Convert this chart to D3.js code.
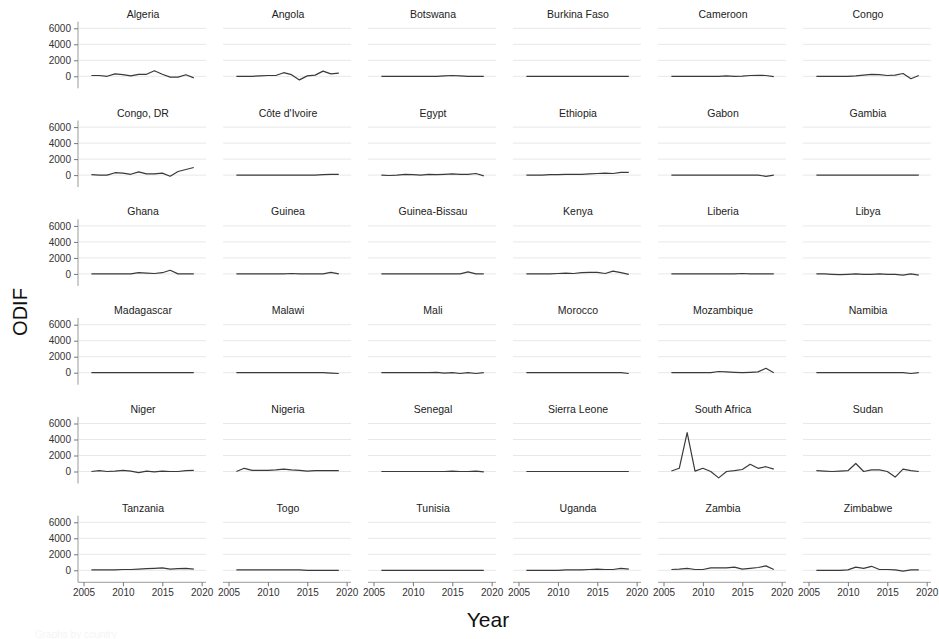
<!DOCTYPE html>
<html>
<head>
<meta charset="utf-8">
<script src="https://cdn.jsdelivr.net/npm/d3@7"></script>
<style>
    body { margin: 0; background: #fff; }
    text { font-family: "Liberation Sans", Arial, sans-serif; }
</style>
</head>
<body>
<div id="graph"></div>
<script>
const years = [2006, 2007, 2008, 2009, 2010, 2011, 2012, 2013, 2014, 2015, 2016, 2017, 2018, 2019];

const countries = [
    "Algeria", "Angola", "Botswana", "Burkina Faso", "Cameroon", "Congo",
    "Congo, DR", "Côte d'Ivoire", "Egypt", "Ethiopia", "Gabon", "Gambia",
    "Ghana", "Guinea", "Guinea-Bissau", "Kenya", "Liberia", "Libya",
    "Madagascar", "Malawi", "Mali", "Morocco", "Mozambique", "Namibia",
    "Niger", "Nigeria", "Senegal", "Sierra Leone", "South Africa", "Sudan",
    "Tanzania", "Togo", "Tunisia", "Uganda", "Zambia", "Zimbabwe"
];

// ODIF per country, 2006-2019 (same order as countries)
const odif = [
    [100, 100, 0, 300, 200, 50, 250, 250, 700, 250, -100, -100, 200, -200],
    [0, 0, 0, 50, 100, 100, 450, 200, -450, 50, 150, 650, 300, 400],
    [0, 0, 0, -20, 0, 0, 0, 0, 50, 100, 50, 0, 0, 0],
    [0, 0, 0, 0, 0, 0, 0, 0, 0, 0, 0, 0, 0, 0],
    [0, 0, 0, 0, 0, 0, 0, 50, 0, 30, 100, 120, 100, -30],
    [0, 0, 0, 0, 0, 50, 150, 250, 200, 100, 150, 350, -300, 100],
    [50, 0, 0, 300, 250, 100, 400, 150, 150, 250, -150, 450, 700, 950],
    [0, 0, 0, 0, 0, 0, 0, 0, 0, 0, 0, 50, 100, 100],
    [0, -50, 0, 100, 50, 0, 100, 50, 100, 150, 100, 100, 200, -100],
    [0, 0, 0, 50, 50, 100, 100, 100, 150, 200, 250, 200, 350, 350],
    [0, 0, 0, 0, 0, 0, 0, 0, 0, 0, 0, 0, -150, 0],
    [0, 0, 0, 0, 0, 0, 0, 0, 0, 0, 0, 0, 0, 0],
    [0, 0, 0, 0, 0, 0, 150, 100, 50, 150, 450, 0, 0, 0],
    [0, 0, 0, 0, 0, 0, 0, 50, 0, 0, 0, 0, 200, 0],
    [0, 0, 0, 0, 0, 0, 0, 0, 0, 0, 0, 250, 0, 0],
    [0, 0, 0, 0, 50, 100, 50, 150, 200, 200, 50, 350, 150, -50],
    [0, 0, 0, 0, 0, 0, 0, 0, 0, 50, 0, 0, 0, 0],
    [0, 0, -50, -100, -50, 0, -50, -50, 0, -50, -50, -150, 0, -150],
    [0, 0, 0, 0, 0, 0, 0, 0, 0, 0, 0, 0, 0, 0],
    [0, 0, 0, 0, 0, 0, 0, 0, 0, 0, 0, 0, -50, -100],
    [0, 0, 0, 0, 0, 0, 0, 50, -50, 0, -100, 0, -100, 0],
    [0, 0, 0, 0, 0, 0, 0, 0, 0, 0, 0, 0, 0, -100],
    [0, 0, 0, 0, 0, 0, 150, 100, 50, 0, 50, 100, 550, 0],
    [0, 0, 0, 0, 0, 0, 0, 0, 0, 0, 0, 0, -100, 0],
    [0, 100, 0, 50, 150, 50, -150, 50, -50, 50, 0, 0, 100, 150],
    [0, 400, 150, 150, 150, 200, 300, 200, 150, 50, 100, 100, 100, 100],
    [0, 0, 0, 0, 0, 0, 0, 0, 0, 50, 0, 0, 50, -50],
    [0, 0, 0, 0, 0, 0, 0, 0, 0, 0, 0, 0, 0, 0],
    [60, 400, 4850, 50, 400, 0, -800, 0, 100, 250, 900, 400, 600, 300],
    [100, 50, 0, 50, 100, 1000, 0, 200, 200, 0, -700, 300, 100, 0],
    [50, 50, 50, 50, 100, 100, 150, 200, 250, 300, 150, 200, 250, 150],
    [50, 50, 50, 50, 50, 50, 50, 50, 50, 0, 0, 0, 0, 0],
    [0, 0, 0, 0, 0, 0, 0, 0, 0, 0, 0, 0, 0, 0],
    [0, 0, 0, 0, 0, 50, 50, 50, 100, 150, 100, 100, 250, 150],
    [100, 150, 250, 100, 100, 300, 300, 300, 400, 150, 250, 350, 550, 100],
    [0, 0, 0, 0, 50, 400, 250, 500, 100, 100, 50, -100, 50, 50]
];

const yTicks = [0, 2000, 4000, 6000];
const xTicks = [2005, 2010, 2015, 2020];

function SmallMultiples() {
    const width = 939;
    const height = 639;
    const ncol = 6;

    // panel grid
    const left = 78, colStep = 145, panelW = 128;
    const top = 21.7, rowStep = 98.8, panelH = 66.6;

    const svg = d3.select("#graph")
        .append("svg")
        .attr("width", width)
        .attr("height", height);

    const x = d3.scaleLinear().domain([2004.3, 2020.55]).range([0, panelW]);
    const y = d3.scaleLinear().domain([-1500, 6825]).range([panelH, 0]);

    const line = d3.line()
        .x((d, i) => x(years[i]))
        .y(d => y(d));

    countries.forEach((name, k) => {
        const col = k % ncol;
        const row = Math.floor(k / ncol);
        const g = svg.append("g")
            .attr("transform", `translate(${left + col * colStep},${top + row * rowStep})`);

        // grid lines
        g.append("g")
            .selectAll("line")
            .data(yTicks)
            .join("line")
            .attr("x1", col === 0 ? 1 : 0)
            .attr("x2", panelW)
            .attr("y1", d => y(d))
            .attr("y2", d => y(d))
            .attr("stroke", "#e8e8e8")
            .attr("stroke-width", 1);

        // title
        g.append("text")
            .attr("x", panelW / 2 + 1)
            .attr("y", -4)
            .attr("text-anchor", "middle")
            .attr("font-size", "10.5px")
            .attr("fill", "#222")
            .text(name);

        if (col === 0) {
            const yAxis = g.append("g")
                .call(d3.axisLeft(y).tickValues(yTicks).tickFormat(d3.format("d")).tickSize(4).tickPadding(3));
            yAxis.select(".domain").attr("stroke", "#9a9a9a").attr("d", `M0,0V${panelH}`);
            yAxis.selectAll(".tick line").attr("stroke", "#777");
            yAxis.selectAll("text")
                .attr("font-size", "10px")
                .attr("fill", "#333")
                .style("font-family", "Liberation Sans, Arial, sans-serif");
        }

        if (row === 5) {
            const xAxis = g.append("g")
                .attr("transform", `translate(0,${panelH})`)
                .call(d3.axisBottom(x).tickValues(xTicks).tickFormat(d3.format("d")).tickSize(4).tickPadding(3));
            xAxis.select(".domain").attr("stroke", "#9a9a9a").attr("d", `M0,0H${panelW}`);
            xAxis.selectAll(".tick line").attr("stroke", "#777");
            xAxis.selectAll("text")
                .attr("font-size", "10px")
                .attr("fill", "#333")
                .style("font-family", "Liberation Sans, Arial, sans-serif");
        }

        g.append("path")
            .datum(odif[k])
            .attr("fill", "none")
            .attr("stroke", "#3a3a3a")
            .attr("stroke-width", 1.2)
            .attr("stroke-linejoin", "round")
            .attr("d", line);
    });

    // axis titles
    svg.append("text")
        .attr("transform", "translate(27,312) rotate(-90)")
        .attr("text-anchor", "middle")
        .attr("font-size", "20px")
        .attr("fill", "#111")
        .text("ODIF");

    svg.append("text")
        .attr("x", 488)
        .attr("y", 627)
        .attr("text-anchor", "middle")
        .attr("font-size", "21px")
        .attr("fill", "#111")
        .text("Year");

    // very faint note bottom-left
    svg.append("text")
        .attr("x", 35)
        .attr("y", 638)
        .attr("font-size", "10px")
        .attr("fill", "#f5f5f5")
        .text("Graphs by country");
}

SmallMultiples();
</script>
</body>
</html>
